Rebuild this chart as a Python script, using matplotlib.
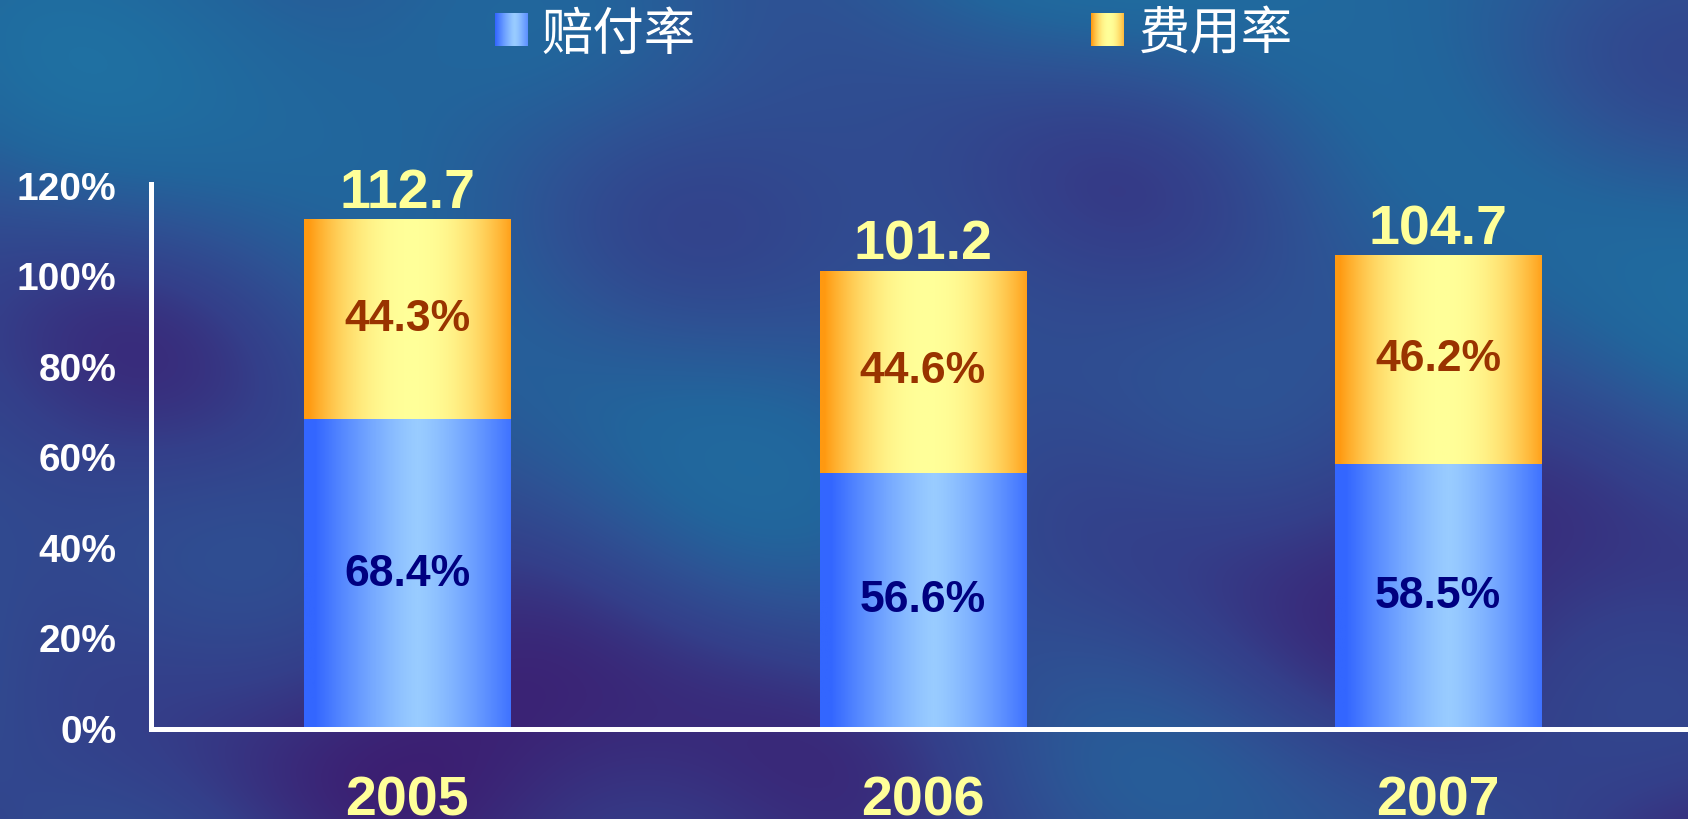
import numpy as np
import matplotlib.pyplot as plt
from matplotlib.colors import LinearSegmentedColormap

# 数据
years = ['2005', '2006', '2007']
claims = [68.4, 56.6, 58.5]    # 赔付率
expense = [44.3, 44.6, 46.2]   # 费用率
yticks = [0, 20, 40, 60, 80, 100, 120]
legend_names = ['赔付率', '费用率']

W, H = 1688, 819
fig = plt.figure(figsize=(W / 100, H / 100), dpi=100)

num_font = 'Liberation Sans'
cjk_font = ['Noto Sans CJK SC', 'DejaVu Sans']

# 背景（深蓝纹理）
bg = fig.add_axes([0, 0, 1, 1], zorder=-10)
yy, xx = np.mgrid[0:1:205j, 0:1:422j]
field = (0.45 * np.sin(9 * xx - 6 * yy + 1.0)
         + 0.3 * np.sin(4 * xx + 11 * yy)
         + 0.2 * np.sin(17 * xx - 13 * yy + 2)
         + 0.15 * np.sin(23 * xx + 5 * yy + 0.5)
         + 1.0 * (0.5 - yy))
field = (field - field.min()) / (field.max() - field.min())
bg_cmap = LinearSegmentedColormap.from_list(
    'bg', ['#3c1f72', '#343f8a', '#2e5294', '#22659c', '#1f70a2'])
bg.imshow(field, cmap=bg_cmap, aspect='auto', interpolation='bicubic')
bg.axis('off')

# 主坐标轴
px_per_pct = 4.525
ytop = 120.5
ax = fig.add_axes([151 / W, 90 / H, (W - 151) / W, ytop * px_per_pct / H])
ax.set_facecolor('none')
for s in ['top', 'right']:
    ax.spines[s].set_visible(False)
for s in ['left', 'bottom']:
    ax.spines[s].set_color('white')
    ax.spines[s].set_linewidth(3.6)

x = np.arange(len(years))
bw = 0.4
b1 = ax.bar(x, claims, width=bw, color='none', zorder=2)
b2 = ax.bar(x, expense, width=bw, bottom=claims, color='none', zorder=2)

blue_cmap = LinearSegmentedColormap.from_list('b', ['#3366FF', '#99CCFF'])
orange_cmap = LinearSegmentedColormap.from_list('o', ['#FF9910', '#FFFF99'])
t = np.linspace(0, 1, 200)
blue_prof = np.clip(1 - np.abs((t - 0.55) / 0.5) ** 1.3, 0, 1)
orange_prof = np.clip(1 - np.abs((t - 0.52) / 0.5) ** 2.2, 0, 1)


def grad_fill(patch, prof, cmap):
    bb = patch.get_bbox()
    im = ax.imshow(prof[np.newaxis, :], extent=[bb.x0, bb.x1, bb.y0, bb.y1],
                   aspect='auto', cmap=cmap, vmin=0, vmax=1, zorder=2)
    im.set_clip_path(patch)


for p in b1:
    grad_fill(p, blue_prof, blue_cmap)
for p in b2:
    grad_fill(p, orange_prof, orange_cmap)

ax.set_xlim(-0.497, 2.485)
ax.set_ylim(0, ytop)
ax.set_xticks([])
ax.set_yticks(yticks)
ax.set_yticklabels([f'{v}%' for v in yticks], color='white', fontsize=28,
                   fontweight='bold', fontfamily=num_font)
ax.tick_params(axis='y', length=0, pad=25)

for i in range(len(years)):
    c, e = claims[i], expense[i]
    ax.text(i, c / 2, f'{c}%', ha='center', va='center', color='#000080',
            fontsize=32, fontweight='bold', fontfamily=num_font, zorder=3)
    ax.text(i, c + e / 2, f'{e}%', ha='center', va='center', color='#993300',
            fontsize=32, fontweight='bold', fontfamily=num_font, zorder=3)
    ax.annotate(f'{c + e:.1f}', xy=(i, c + e), xytext=(0, 8),
                textcoords='offset points', ha='center', va='baseline',
                color='#FFFF99', fontsize=40, fontweight='bold',
                fontfamily=num_font, annotation_clip=False)
    ax.annotate(years[i], xy=(i, 0), xycoords=('data', 'axes fraction'),
                xytext=(0, -62), textcoords='offset points', ha='center',
                va='baseline', color='#FFFF99', fontsize=40, fontweight='bold',
                fontfamily=num_font, annotation_clip=False)

# 图例
sq = np.linspace(0, 1, 50)
leg_items = [(495, 541, blue_cmap, np.clip(1 - np.abs((sq - 0.6) / 0.6) ** 1.3, 0, 1)),
             (1091, 1139, orange_cmap, np.clip(1 - np.abs((sq - 0.55) / 0.55) ** 2, 0, 1))]
for name, (sx, tx, cm, prof) in zip(legend_names, leg_items):
    lax = fig.add_axes([sx / W, 1 - 46 / H, 33 / W, 33 / H])
    lax.imshow(prof[np.newaxis, :], aspect='auto', cmap=cm, vmin=0, vmax=1)
    lax.axis('off')
    fig.text(tx / W, 1 - 35 / H, name, ha='left', va='center', color='white',
             fontsize=37, family=cjk_font)

fig.savefig('out.png', dpi=100)
